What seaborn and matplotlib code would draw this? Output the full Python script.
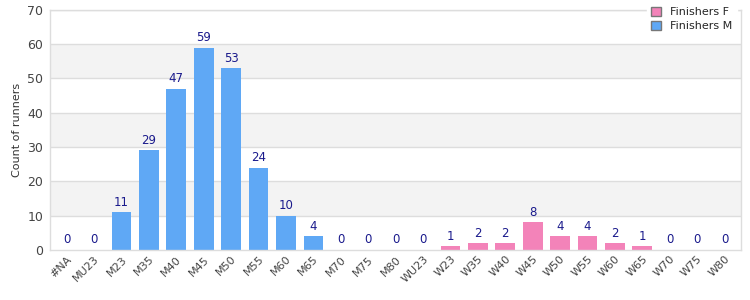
import matplotlib
matplotlib.use("Agg")
import matplotlib.pyplot as plt
import seaborn as sns
import pandas as pd
from matplotlib.patches import Patch

categories = ["#NA", "MU23", "M23", "M35", "M40", "M45", "M50", "M55", "M60", "M65",
              "M70", "M75", "M80", "WU23", "W23", "W35", "W40", "W45", "W50", "W55",
              "W60", "W65", "W70", "W75", "W80"]
values = [0, 0, 11, 29, 47, 59, 53, 24, 10, 4, 0, 0, 0,
          0, 1, 2, 2, 8, 4, 4, 2, 1, 0, 0, 0]
series = ["Finishers M"] * 13 + ["Finishers F"] * 12

df = pd.DataFrame({"cat": categories, "count": values, "series": series})

sns.set_theme(style="white")
plt.rcParams['font.family'] = ['DejaVu Sans']

fig = plt.figure(figsize=(7.5, 3), dpi=100)
ax = fig.add_axes([0.067, 0.167, 0.921, 0.80])

palette = {"Finishers M": "#5fa8f5", "Finishers F": "#f383b9"}
sns.barplot(data=df, x="cat", y="count", hue="series", palette=palette,
            dodge=False, width=0.72, ax=ax, legend=False, saturation=1,
            order=categories, linewidth=0, edgecolor="none")

ax.set_ylim(0, 70)
ax.set_xlim(-0.6, len(categories) - 0.4)
ax.set_yticks(range(0, 71, 10))
for lo in (10, 30, 50):
    ax.axhspan(lo, lo + 10, color="#f3f3f3", zorder=0, lw=0)
for y in range(10, 71, 10):
    ax.axhline(y, color="#dddddd", lw=1, zorder=0.5)
ax.set_axisbelow(True)

for i, v in enumerate(values):
    ax.text(i, v + 1.0, str(v), ha="center", va="bottom", fontsize=8.5, color="#1a1a8c")

ax.set_xlabel("")
ax.set_ylabel("Count of runners", fontsize=8, color="#333333")
ax.tick_params(axis="x", labelsize=8, labelcolor="#444444", rotation=45, length=0, pad=3)
ax.tick_params(axis="y", labelsize=9, labelcolor="#444444", length=0, pad=5)
for lbl in ax.get_xticklabels():
    lbl.set_ha("right")
    lbl.set_rotation_mode("anchor")

for side in ["top", "right", "left", "bottom"]:
    ax.spines[side].set_color("#dddddd")
    ax.spines[side].set_linewidth(1)

handles = [Patch(facecolor="#f383b9", edgecolor="#777777", label="Finishers F"),
           Patch(facecolor="#5fa8f5", edgecolor="#777777", label="Finishers M")]
leg = fig.legend(handles=handles, loc="upper right", bbox_to_anchor=(0.99, 1.01),
                 fontsize=8, frameon=True, handlelength=0.9, handleheight=0.9,
                 handletextpad=0.8, borderpad=0.4, labelspacing=0.3)
leg.get_frame().set_facecolor("white")
leg.get_frame().set_edgecolor("white")
leg.get_frame().set_alpha(1)

fig.savefig("out.png", dpi=100)
